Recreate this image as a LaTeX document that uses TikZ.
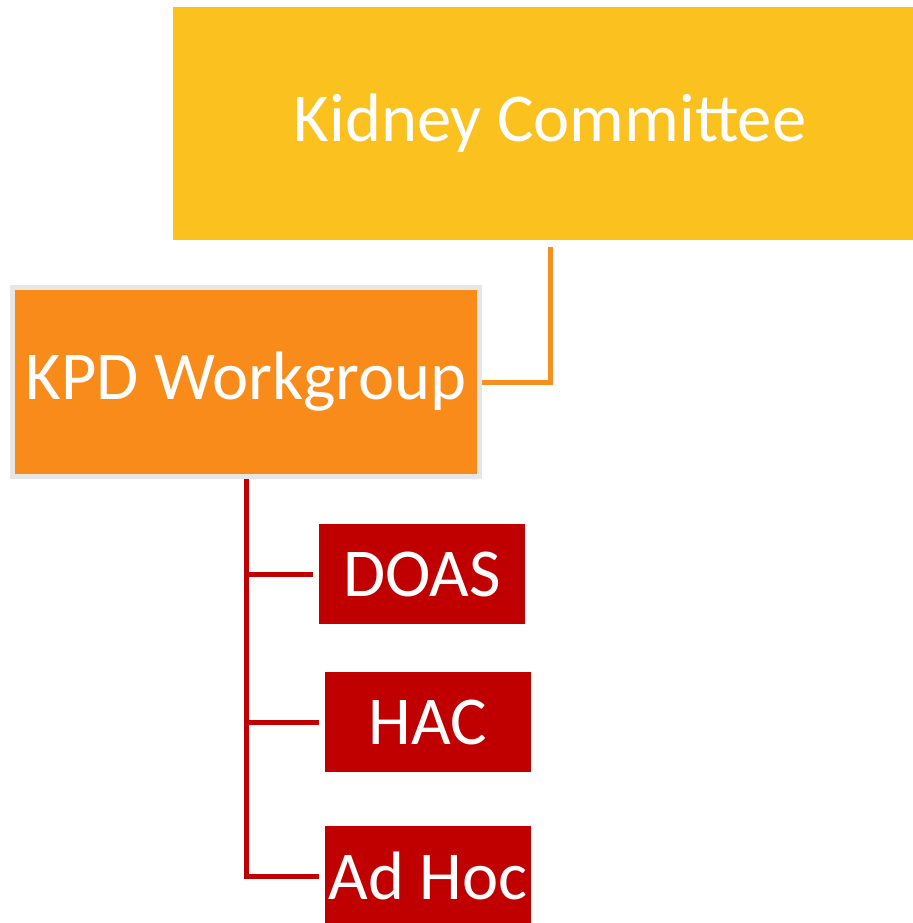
\documentclass[tikz,border=0pt]{standalone}
\usepackage{fontspec}
\setmainfont{Carlito}
\usepackage{tikz}

\definecolor{kidneyyellow}{HTML}{FBC11F}
\definecolor{kpdorange}{HTML}{F98B1A}
\definecolor{lineorange}{HTML}{F7901E}
\definecolor{subred}{HTML}{C00000}
\definecolor{bordergray}{HTML}{E6E6E6}

\begin{document}
\begin{tikzpicture}[every node/.style={rectangle,text=white,inner sep=0pt,
        font=\fontsize{39}{45}\selectfont},
    subbox/.style={fill=subred,minimum width=4.12cm,minimum height=2cm},
    orangeline/.style={draw=lineorange,line width=0.1cm},
    redline/.style={draw=subred,line width=0.1cm}]
    \clip (0,0) rectangle (18.26,-18.46);

    % nodes
    \node[fill=kidneyyellow,minimum width=15.08cm,minimum height=4.66cm] (kidney) at (11.0,-2.47) {Kidney Committee};
    \node[fill=kpdorange,draw=bordergray,line width=0.1cm,minimum width=9.34cm,minimum height=3.78cm] (kpd) at (4.92,-7.64) {KPD Workgroup};

    \node[subbox] (doas) at (8.44,-11.48) {DOAS};
    \node[subbox] (hac) at (8.56,-14.44) {HAC};
    \node[subbox] (adhoc) at (8.56,-17.52) {Ad Hoc};

    % edges
    \draw[orangeline,shorten <=0.14cm] (kidney.south) |- (kpd.east);
    \draw[redline,shorten >=0.12cm] (kpd.south) |- (doas.west);
    \draw[redline,shorten >=0.12cm] (kpd.south) |- (hac.west);
    \draw[redline,shorten >=0.12cm] (kpd.south) |- (adhoc.west);
\end{tikzpicture}
\end{document}
